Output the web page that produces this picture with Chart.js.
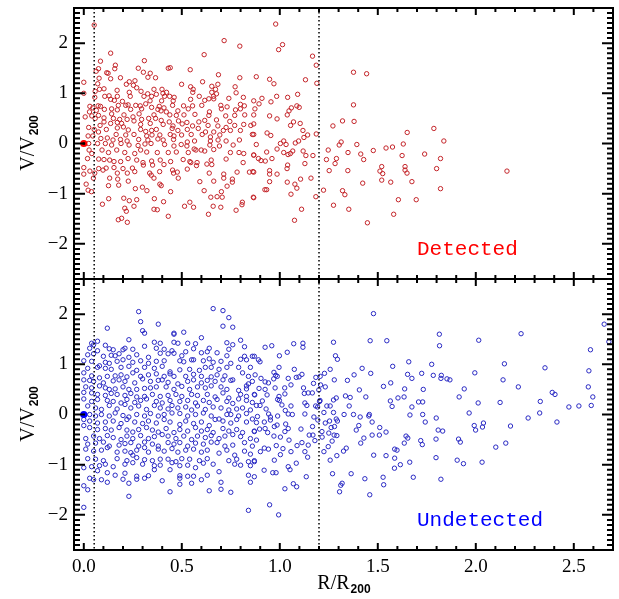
<!DOCTYPE html>
<html lang="en">
<head>
<meta charset="UTF-8">
<title>V/V200 vs R/R200</title>
<script src="https://cdn.jsdelivr.net/npm/chart.js@4/dist/chart.umd.min.js"></script>
<style>
	body { margin: 0; background: #fff; }
	#wrap { position: relative; width: 619px; height: 599px; }
	canvas { position: absolute; left: 0; }
	#topPanel { top: 0; }
	#bottomPanel { top: 270px; }
</style>
</head>
<body>
<div id="wrap">
	<canvas id="topPanel" width="619" height="290"></canvas>
	<canvas id="bottomPanel" width="619" height="329"></canvas>
</div>
<script>

// axis limits, tick labels, dotted marker radii
var rMin = -0.05, rMax = 2.7;
var vMin = -2.7, vMax = 2.7;
var rTicks = [0, 0.5, 1, 1.5, 2, 2.5];
var vTicks = [-2, -1, 0, 1, 2];
var markerR = [0.053, 1.2];
var labelAt = [1.70, -2.22];

// [R/R200, V/V200]
var detectedInner = [
[0.053,2.36],[0.716,2.05],[0.796,1.94],[0.137,1.80],[0.614,1.77],[0.309,1.65],[0.085,1.64],[0.161,1.56],[0.441,1.51],[0.431,1.50],[0.278,1.50],[0.075,1.49],[0.543,1.47],[0.158,1.49],[0.063,1.44],[0.117,1.41],[0.124,1.40],[0.304,1.42],[0.339,1.40],[0.687,1.37],
[0.078,1.30],[0.187,1.31],[0.137,1.29],[0.366,1.31],[0.327,1.32],[0.796,1.31],[0.606,1.23],[0.684,1.18],[0.499,1.18],[0.261,1.25],[0.232,1.23],[0.0,1.22],[0.071,1.19],[0.217,1.18],[0.253,1.16],[0.545,1.13],[0.772,1.13],[0.653,1.14],[0.270,1.11],[0.558,1.08],[0.672,1.08],[0.103,1.09],[0.358,1.08],[0.399,1.08],[0.170,1.06],[0.556,1.02],[0.422,1.02],[0.653,1.02],[0.326,0.99],[0.404,1.00],[0.232,1.02],[0.292,1.04],[0.0,1.00],[0.080,1.08],[0.058,1.04],
[0.129,0.95],[0.171,0.94],[0.107,0.94],[0.237,0.94],[0.438,0.94],[0.307,0.94],[0.346,0.94],[0.461,0.92],[0.056,0.92],[0.589,0.94],[0.412,0.94],[0.370,0.98],[0.677,0.99],[0.662,0.94],[0.777,1.01],[0.740,0.90],[0.814,0.92],[0.638,0.89],[0.663,0.89],[0.545,0.88],[0.137,0.88],[0.156,0.86],[0.197,0.84],[0.338,0.85],[0.397,0.85],[0.456,0.85],[0.617,0.86],
[0.031,0.74],[0.046,0.71],[0.073,0.75],[0.085,0.74],[0.176,0.76],[0.214,0.76],[0.226,0.77],[0.265,0.76],[0.288,0.75],[0.316,0.79],[0.346,0.72],[0.385,0.74],[0.409,0.71],[0.453,0.76],[0.509,0.75],[0.555,0.75],[0.602,0.76],[0.699,0.76],[0.731,0.73],[0.799,0.78],[0.819,0.75],[0.774,0.67],[0.105,0.68],[0.142,0.69],[0.171,0.67],[0.239,0.68],[0.295,0.69],[0.378,0.68],[0.394,0.65],[0.421,0.63],[0.480,0.65],[0.533,0.69],[0.641,0.63],[0.702,0.69],[0.799,0.69],
[0.029,0.63],[0.064,0.66],[0.041,0.55],[0.075,0.56],[0.142,0.59],[0.205,0.57],[0.282,0.59],[0.358,0.57],[0.439,0.57],[0.472,0.56],[0.511,0.57],[0.567,0.58],[0.638,0.56],[0.724,0.55],[0.770,0.56],[0.821,0.57],
[0.007,0.53],[0.058,0.50],[0.103,0.51],[0.151,0.50],[0.183,0.48],[0.221,0.48],[0.251,0.53],[0.256,0.45],[0.295,0.48],[0.331,0.50],[0.366,0.50],[0.395,0.46],[0.436,0.43],[0.483,0.45],[0.526,0.42],[0.587,0.43],[0.617,0.46],[0.677,0.47],[0.745,0.44],
[0.103,0.43],[0.083,0.36],[0.171,0.42],[0.193,0.40],[0.137,0.40],[0.290,0.38],[0.339,0.40],[0.405,0.38],[0.455,0.35],[0.502,0.39],[0.555,0.35],[0.634,0.36],[0.684,0.35],[0.726,0.32],[0.770,0.36],[0.816,0.38],[0.852,0.36],
[0.025,0.32],[0.053,0.28],[0.115,0.28],[0.171,0.31],[0.202,0.33],[0.227,0.27],[0.290,0.28],[0.316,0.24],[0.346,0.26],[0.370,0.28],[0.451,0.30],[0.480,0.26],[0.528,0.28],[0.584,0.30],[0.621,0.23],[0.663,0.23],[0.712,0.26],[0.748,0.26],[0.799,0.26],
[0.075,0.23],[0.165,0.18],[0.214,0.17],[0.256,0.18],[0.321,0.15],[0.348,0.17],[0.388,0.17],[0.441,0.18],[0.460,0.15],[0.499,0.17],[0.548,0.18],[0.604,0.18],[0.694,0.17],[0.860,0.18],[0.646,0.13],
[0.022,0.15],[0.046,0.15],[0.087,0.10],[0.120,0.11],[0.149,0.07],[0.187,0.08],[0.221,0.05],[0.280,0.08],[0.327,0.07],[0.378,0.09],[0.405,0.07],[0.458,0.08],[0.528,0.03],[0.565,0.05],[0.646,0.05],[0.685,0.07],[0.726,0.05],[0.794,0.07],
[0.025,0.00],[0.070,0.00],[0.110,0.00],[0.142,-0.03],[0.190,0.00],[0.231,-0.03],[0.277,-0.04],[0.312,-0.01],[0.343,0.00],[0.412,-0.02],[0.460,-0.05],[0.497,-0.02],[0.526,-0.05],[0.563,-0.11],[0.599,-0.13],[0.643,-0.03],[0.692,-0.05],[0.762,-0.03],
[0.027,-0.13],[0.041,-0.20],[0.093,-0.13],[0.126,-0.18],[0.168,-0.13],[0.209,-0.18],[0.260,-0.20],[0.290,-0.13],[0.321,-0.17],[0.375,-0.18],[0.431,-0.18],[0.472,-0.17],[0.533,-0.18],[0.572,-0.13],[0.617,-0.15],[0.663,-0.12],[0.748,-0.18],[0.792,-0.18],[0.816,-0.20],[0.867,-0.23],
[0.019,-0.30],[0.076,-0.31],[0.103,-0.32],[0.132,-0.33],[0.154,-0.36],[0.188,-0.36],[0.226,-0.30],[0.270,-0.33],[0.302,-0.38],[0.346,-0.35],[0.390,-0.33],[0.443,-0.36],[0.507,-0.32],[0.541,-0.36],[0.578,-0.38],[0.628,-0.41],[0.650,-0.33],[0.726,-0.31],[0.813,-0.38],
[0.0,-0.48],[0.076,-0.50],[0.114,-0.49],[0.154,-0.48],[0.200,-0.50],[0.248,-0.49],[0.304,-0.43],[0.351,-0.43],[0.409,-0.42],[0.453,-0.53],[0.546,-0.38],[0.575,-0.44],[0.653,-0.42],[0.782,-0.57],[0.845,-0.57],[0.863,-0.56],
[0.031,-0.55],[0.056,-0.59],[0.098,-0.53],[0.171,-0.59],[0.222,-0.59],[0.260,-0.56],[0.336,-0.59],[0.387,-0.56],[0.458,-0.59],[0.477,-0.57],[0.528,-0.51],[0.640,-0.59],[0.714,-0.61],[0.758,-0.71],
[0.0,-0.61],[0.049,-0.69],[0.132,-0.69],[0.173,-0.71],[0.227,-0.75],[0.344,-0.63],[0.358,-0.69],[0.482,-0.69],[0.592,-0.76],[0.663,-0.75],[0.714,-0.69],[0.731,-0.85],[0.758,-0.77],
[0.012,-0.81],[0.039,-0.96],[0.022,-0.93],[0.126,-0.84],[0.178,-0.83],[0.263,-0.90],[0.299,-0.87],[0.388,-0.81],[0.395,-0.84],[0.322,-0.94],[0.443,-0.96],[0.614,-0.94],[0.702,-0.96],
[0.095,-1.21],[0.127,-1.10],[0.204,-1.09],[0.232,-1.14],[0.270,-1.12],[0.256,-1.25],[0.360,-1.10],[0.407,-1.16],[0.541,-1.17],[0.514,-1.25],[0.560,-1.27],[0.648,-1.07],[0.680,-1.06],[0.706,-1.07],[0.809,-1.17],[0.807,-1.22],[0.777,-1.33],[0.660,-1.25],[0.699,-1.27],[0.865,-1.07],
[0.209,-1.29],[0.217,-1.35],[0.358,-1.31],[0.375,-1.32],[0.431,-1.45],[0.636,-1.41],[0.176,-1.52],[0.193,-1.49],[0.222,-1.57]
];

var detectedOuter = [
[0.979,2.38],[1.014,1.97],[0.994,1.87],[1.167,1.74],[1.186,1.56],[0.880,1.33],[0.948,1.28],[0.970,1.19],[1.131,1.27],[1.189,1.20],[1.376,1.42],[1.443,1.39],[1.091,0.98],[0.984,0.94],[1.040,0.92],[0.909,0.90],[0.867,0.85],[0.955,0.83],[0.894,0.79],[1.087,0.75],[1.099,0.72],[1.059,0.71],[0.873,0.69],[1.047,0.65],[1.376,0.77],[1.038,0.57],[0.948,0.55],[0.867,0.57],[0.986,0.49],[1.070,0.43],[1.104,0.40],[1.055,0.36],[1.320,0.45],[1.379,0.44],[1.271,0.35],[0.867,0.39],[1.118,0.26],[0.935,0.21],[0.954,0.16],[1.142,0.17],[1.123,0.12],[1.186,0.19],[0.867,0.18],[1.786,0.30],[1.650,0.22],[1.837,0.05],
[0.880,-0.02],[1.020,0.05],[1.032,-0.02],[1.003,0.0],[1.096,0.05],[1.079,0.01],[1.313,0.03],[1.303,-0.03],[1.393,-0.02],[1.542,-0.09],[1.575,-0.07],[1.630,-0.01],[1.477,-0.14],[0.986,-0.11],[1.020,-0.18],[1.042,-0.22],[1.054,-0.20],[1.066,-0.15],[1.119,-0.15],[1.133,-0.24],[1.169,-0.24],[0.933,-0.17],[0.867,-0.23],[0.891,-0.30],[0.904,-0.34],[0.926,-0.35],[0.960,-0.30],[1.247,-0.13],[1.238,-0.32],[1.289,-0.30],[1.282,-0.40],[1.348,-0.18],[1.413,-0.21],[1.428,-0.32],[1.624,-0.24],[1.739,-0.21],[1.820,-0.30],
[1.040,-0.43],[1.128,-0.40],[1.037,-0.50],[0.948,-0.54],[0.948,-0.61],[0.986,-0.61],[1.252,-0.54],[1.347,-0.54],[1.520,-0.46],[1.511,-0.55],[1.525,-0.60],[1.639,-0.46],[1.639,-0.53],[1.649,-0.59],[1.800,-0.50],[2.159,-0.55],[0.867,-0.57],[0.948,-0.76],[1.038,-0.77],[1.106,-0.71],[1.159,-0.69],[1.077,-0.81],[1.087,-0.89],[1.520,-0.73],[1.566,-0.77],[1.674,-0.76],[1.423,-0.79],
[0.924,-0.92],[0.933,-0.92],[1.057,-1.01],[1.223,-0.93],[1.320,-0.94],[1.332,-1.02],[1.184,-1.06],[0.867,-1.08],[1.820,-0.90],[1.605,-1.12],[1.696,-1.12],[1.111,-1.31],[1.274,-1.23],[1.352,-1.31],[1.581,-1.41],[1.075,-1.53],[1.447,-1.58]
];

var undetectedInner = [
[0.66,2.11],[0.71,2.07],[0.28,2.05],[0.74,1.93],[0.29,1.85],[0.38,1.80],[0.71,1.76],[0.76,1.74],[0.12,1.72],[0.30,1.67],[0.31,1.62],[0.46,1.62],[0.46,1.60],[0.51,1.64],[0.60,1.53],[0.23,1.49],[0.07,1.46],[0.04,1.42],[0.05,1.39],[0.11,1.38],[0.31,1.36],[0.36,1.44],[0.39,1.42],[0.46,1.44],[0.48,1.42],[0.53,1.42],[0.57,1.41],[0.73,1.43],[0.80,1.48],[0.82,1.35],[0.76,1.39],
[0.03,1.32],[0.07,1.27],[0.13,1.31],[0.15,1.29],[0.21,1.32],[0.20,1.29],[0.25,1.30],[0.37,1.32],[0.41,1.30],[0.45,1.27],[0.52,1.25],[0.56,1.31],[0.63,1.25],[0.64,1.32],[0.68,1.23],[0.74,1.30],[0.02,1.19],[0.05,1.21],[0.10,1.16],[0.14,1.18],[0.16,1.17],[0.18,1.21],[0.23,1.14],[0.27,1.19],[0.33,1.14],[0.39,1.22],[0.43,1.21],[0.46,1.22],[0.50,1.17],[0.55,1.09],[0.60,1.23],[0.64,1.11],[0.73,1.17],[0.82,1.16],[0.86,1.16],
[0.00,1.07],[0.04,1.06],[0.08,0.97],[0.11,1.04],[0.13,1.02],[0.17,1.06],[0.20,1.09],[0.25,1.04],[0.29,1.07],[0.33,1.02],[0.37,1.06],[0.41,1.07],[0.49,1.07],[0.51,1.05],[0.56,1.09],[0.61,1.07],[0.66,1.04],[0.70,1.06],[0.75,1.02],[0.80,1.10],[0.83,1.09],
[0.02,0.92],[0.07,0.94],[0.11,0.92],[0.14,0.90],[0.19,0.94],[0.23,0.96],[0.27,0.88],[0.31,0.94],[0.36,0.92],[0.40,0.96],[0.44,0.85],[0.49,0.89],[0.54,0.90],[0.59,0.88],[0.62,0.94],[0.65,0.94],[0.69,0.90],[0.73,0.94],[0.79,0.94],[0.85,0.94],
[0.00,0.83],[0.04,0.77],[0.08,0.73],[0.12,0.76],[0.16,0.77],[0.19,0.79],[0.22,0.75],[0.25,0.83],[0.29,0.76],[0.33,0.79],[0.37,0.81],[0.41,0.76],[0.44,0.81],[0.46,0.76],[0.52,0.76],[0.56,0.80],[0.60,0.76],[0.65,0.75],[0.68,0.79],[0.72,0.77],[0.76,0.69],[0.81,0.83],[0.84,0.76],
[0.00,0.69],[0.03,0.68],[0.05,0.66],[0.10,0.63],[0.15,0.67],[0.18,0.69],[0.21,0.66],[0.26,0.63],[0.30,0.71],[0.34,0.66],[0.38,0.68],[0.40,0.69],[0.43,0.64],[0.48,0.61],[0.53,0.66],[0.56,0.69],[0.60,0.63],[0.63,0.68],[0.67,0.66],[0.71,0.69],[0.75,0.68],[0.83,0.57],[0.84,0.61],[0.86,0.66],
[0.01,0.55],[0.04,0.53],[0.08,0.57],[0.11,0.53],[0.13,0.50],[0.16,0.51],[0.20,0.55],[0.23,0.50],[0.27,0.50],[0.31,0.52],[0.34,0.53],[0.37,0.55],[0.42,0.55],[0.46,0.50],[0.50,0.56],[0.54,0.50],[0.58,0.55],[0.62,0.53],[0.65,0.57],[0.70,0.55],[0.73,0.50],[0.79,0.48],[0.83,0.51],
[0.00,0.44],[0.04,0.43],[0.07,0.40],[0.11,0.38],[0.14,0.42],[0.17,0.40],[0.21,0.38],[0.24,0.42],[0.27,0.35],[0.31,0.36],[0.35,0.40],[0.39,0.36],[0.43,0.38],[0.47,0.40],[0.50,0.36],[0.55,0.40],[0.58,0.38],[0.63,0.40],[0.67,0.35],[0.71,0.43],[0.74,0.33],[0.80,0.40],[0.83,0.36],[0.87,0.40],
[0.00,0.31],[0.04,0.26],[0.07,0.30],[0.12,0.28],[0.15,0.26],[0.19,0.23],[0.22,0.30],[0.26,0.24],[0.29,0.28],[0.32,0.31],[0.37,0.26],[0.40,0.23],[0.44,0.28],[0.49,0.26],[0.53,0.28],[0.57,0.23],[0.61,0.28],[0.64,0.24],[0.68,0.30],[0.73,0.26],[0.76,0.22],[0.79,0.31],[0.83,0.28],[0.86,0.24],
[0.02,0.17],[0.06,0.13],[0.09,0.10],[0.13,0.18],[0.17,0.11],[0.21,0.20],[0.24,0.13],[0.28,0.17],[0.32,0.10],[0.36,0.18],[0.39,0.13],[0.43,0.11],[0.45,0.18],[0.48,0.13],[0.52,0.15],[0.55,0.09],[0.58,0.17],[0.62,0.10],[0.66,0.15],[0.70,0.13],[0.74,0.09],[0.78,0.11],[0.81,0.13],[0.85,0.09],
[0.03,0.00],[0.06,-0.03],[0.09,0.00],[0.13,-0.03],[0.16,0.03],[0.20,-0.02],[0.23,-0.05],[0.27,0.00],[0.31,-0.03],[0.34,0.02],[0.38,-0.03],[0.41,0.00],[0.45,0.03],[0.49,0.02],[0.53,-0.03],[0.57,0.00],[0.61,0.03],[0.65,-0.03],[0.69,-0.09],[0.73,0.00],[0.75,0.00],[0.79,-0.03],[0.83,0.02],[0.86,-0.09],
[0.00,-0.10],[0.03,-0.13],[0.07,-0.17],[0.11,-0.15],[0.15,-0.13],[0.19,-0.18],[0.22,-0.10],[0.26,-0.15],[0.30,-0.18],[0.33,-0.13],[0.37,-0.17],[0.41,-0.10],[0.44,-0.15],[0.49,-0.20],[0.52,-0.13],[0.56,-0.18],[0.60,-0.15],[0.64,-0.22],[0.67,-0.10],[0.71,-0.13],[0.75,-0.17],[0.78,-0.10],[0.83,-0.15],[0.00,-0.22],
[0.03,-0.26],[0.07,-0.30],[0.11,-0.28],[0.14,-0.31],[0.18,-0.26],[0.22,-0.31],[0.25,-0.35],[0.28,-0.30],[0.32,-0.26],[0.35,-0.31],[0.38,-0.35],[0.42,-0.28],[0.46,-0.36],[0.49,-0.30],[0.53,-0.33],[0.57,-0.26],[0.60,-0.33],[0.63,-0.30],[0.66,-0.36],[0.71,-0.28],[0.74,-0.33],[0.78,-0.30],[0.81,-0.36],[0.87,-0.33],
[0.01,-0.48],[0.05,-0.43],[0.08,-0.48],[0.12,-0.42],[0.15,-0.46],[0.19,-0.50],[0.22,-0.43],[0.25,-0.48],[0.29,-0.42],[0.33,-0.48],[0.36,-0.44],[0.40,-0.40],[0.43,-0.43],[0.47,-0.48],[0.51,-0.43],[0.55,-0.50],[0.58,-0.43],[0.62,-0.46],[0.65,-0.42],[0.69,-0.48],[0.72,-0.43],[0.76,-0.40],[0.80,-0.44],[0.85,-0.48],
[0.02,-0.59],[0.06,-0.57],[0.10,-0.55],[0.13,-0.63],[0.18,-0.61],[0.21,-0.58],[0.24,-0.56],[0.28,-0.63],[0.31,-0.55],[0.35,-0.59],[0.38,-0.63],[0.43,-0.56],[0.46,-0.59],[0.49,-0.56],[0.53,-0.63],[0.57,-0.57],[0.61,-0.59],[0.65,-0.55],[0.68,-0.56],[0.72,-0.63],[0.76,-0.61],[0.82,-0.56],[0.86,-0.63],
[0.01,-0.69],[0.05,-0.73],[0.09,-0.71],[0.12,-0.66],[0.17,-0.75],[0.21,-0.73],[0.24,-0.76],[0.27,-0.71],[0.31,-0.66],[0.33,-0.75],[0.38,-0.69],[0.41,-0.73],[0.45,-0.68],[0.48,-0.75],[0.52,-0.71],[0.56,-0.69],[0.60,-0.75],[0.63,-0.71],[0.69,-0.77],[0.73,-0.71],[0.77,-0.81],[0.82,-0.73],[0.85,-0.79],
[0.02,-0.88],[0.06,-0.89],[0.10,-0.92],[0.17,-0.88],[0.22,-0.92],[0.25,-0.81],[0.27,-0.86],[0.31,-0.90],[0.35,-0.92],[0.39,-0.89],[0.43,-0.89],[0.47,-0.94],[0.50,-0.88],[0.54,-0.89],[0.59,-0.92],[0.63,-0.88],[0.74,-0.92],[0.78,-0.89],[0.84,-0.94],[0.87,-0.92],
[0.00,-1.06],[0.04,-1.04],[0.08,-1.02],[0.11,-0.99],[0.15,-1.04],[0.21,-0.99],[0.25,-0.96],[0.30,-0.99],[0.36,-1.02],[0.39,-1.01],[0.45,-0.96],[0.49,-1.02],[0.53,-1.01],[0.57,-1.06],[0.61,-0.97],[0.66,-0.99],[0.77,-0.99],[0.80,-1.01],[0.85,-1.02],
[0.07,-1.12],[0.12,-1.16],[0.16,-1.21],[0.21,-1.17],[0.27,-1.23],[0.31,-1.27],[0.33,-1.22],[0.36,-1.10],[0.44,-1.10],[0.49,-1.27],[0.49,-1.22],[0.53,-1.23],[0.56,-1.23],[0.63,-1.21],[0.69,-1.14],[0.03,-1.27],[0.05,-1.30],[0.09,-1.30],[0.12,-1.35],[0.20,-1.29],[0.23,-1.37],[0.27,-1.29],[0.40,-1.32],[0.49,-1.39],[0.60,-1.30],[0.70,-1.35],[0.84,-1.21],[0.85,-1.35],
[0.00,-1.42],[0.02,-1.50],[0.44,-1.54],[0.55,-1.37],[0.64,-1.52],[0.70,-1.49],[0.75,-1.55],[0.23,-1.63],[0.00,-1.85],[0.84,-1.91]
];

var undetectedOuter = [
[1.478,2.01],[2.655,1.80],[1.814,1.60],[2.231,1.61],[2.015,1.48],[1.461,1.47],[1.546,1.47],[1.274,1.44],[2.679,1.45],[1.815,1.37],[2.585,1.29],[1.284,1.17],[1.294,1.10],[1.658,1.05],[2.146,1.01],[1.775,1.00],[1.576,0.96],[2.353,0.93],[1.420,0.92],[1.257,0.90],[2.577,0.87],[1.228,0.82],[1.464,0.82],[1.724,0.82],[1.995,0.83],[1.652,0.80],[1.783,0.78],[1.824,0.78],[1.379,0.79],[1.674,0.72],[1.822,0.72],[1.853,0.71],[1.868,0.69],[2.139,0.69],[1.278,0.69],[1.345,0.68],[1.566,0.63],[1.529,0.56],[2.217,0.55],[2.574,0.55],
[1.406,0.49],[1.637,0.51],[1.732,0.50],[1.941,0.51],[2.390,0.44],[2.404,0.40],[2.597,0.35],[1.335,0.37],[1.359,0.34],[1.439,0.35],[1.603,0.33],[1.634,0.35],[1.915,0.35],[1.564,0.27],[1.708,0.25],[1.729,0.25],[2.329,0.26],[2.012,0.23],[2.124,0.24],[2.589,0.18],[1.674,0.15],[1.573,0.16],[2.475,0.15],[2.526,0.17],[1.354,0.17],
[1.376,0.00],[1.966,0.03],[2.326,0.03],[1.457,0.00],[1.729,0.00],[1.664,-0.01],[1.410,-0.05],[1.454,-0.03],[2.267,-0.07],[1.798,-0.07],[1.742,-0.15],[1.471,-0.15],[2.414,-0.15],[1.992,-0.22],[2.039,-0.17],[2.034,-0.25],[2.177,-0.23],[1.510,-0.26],[1.403,-0.22],[1.390,-0.31],[1.808,-0.31],[1.831,-0.33],[1.999,-0.31],[1.542,-0.35],[1.644,-0.43],[1.653,-0.47],[1.508,-0.41],[1.471,-0.41],[1.429,-0.47],
[1.413,-0.57],[1.635,-0.57],[1.719,-0.52],[1.727,-0.60],[1.797,-0.49],[1.912,-0.49],[1.921,-0.55],[2.102,-0.65],[2.153,-0.57],[1.479,-0.81],[1.542,-0.82],[1.586,-0.69],[1.598,-0.71],[1.586,-0.87],[1.663,-0.95],[1.615,-1.00],[1.585,-1.07],[1.797,-0.86],[1.905,-0.91],[1.937,-0.98],[2.032,-0.95],[1.339,-0.67],[1.325,-0.73],[1.291,-0.82],[1.257,-0.91],[1.269,-1.18],[1.364,-1.18],[1.434,-1.28],[1.527,-1.25],[1.530,-1.40],[1.681,-1.25],[1.822,-1.29],[1.318,-1.37],[1.311,-1.41],[1.305,-1.54],[1.459,-1.60],
[1.225,-0.74],[1.247,-0.64],[1.267,-0.53],[1.291,-0.42],[1.277,-0.41],[1.250,-0.37],[1.216,-0.45],[1.215,-0.34],[1.262,-0.26],[1.279,-0.24],[1.254,-0.13],[1.294,-0.13],[1.232,-0.17],[1.225,0.04],[1.274,0.04],[1.288,-0.09],[1.328,0.00],[1.257,0.17],[1.240,0.17],[1.274,0.29],[1.288,0.33],[1.205,0.28],[1.232,0.55],[1.208,0.59],[1.206,0.76],
[0.925,1.34],[0.959,1.37],[1.071,1.41],[1.118,1.42],[1.118,1.34],[1.038,1.24],[0.998,1.17],[0.870,1.16],[0.891,1.09],[0.899,1.05],[0.996,0.94],[1.074,0.90],[0.874,0.79],[0.970,0.84],[0.979,0.78],[0.987,0.76],[0.969,0.71],[0.904,0.72],[0.925,0.65],[0.942,0.63],[1.043,0.72],[1.084,0.74],[1.098,0.75],[1.113,0.80],[1.184,0.74],[1.057,0.59],[1.025,0.53],[0.894,0.52],[0.925,0.50],[0.976,0.53],[1.121,0.53],[1.172,0.62],
[0.935,0.39],[0.872,0.39],[0.996,0.36],[1.026,0.41],[1.125,0.42],[1.166,0.43],[1.145,0.43],[1.199,0.49],[0.998,0.28],[0.989,0.30],[0.911,0.27],[0.881,0.18],[0.899,0.18],[1.011,0.19],[1.057,0.17],[1.028,0.08],[1.064,0.00],[1.128,0.23],[1.138,0.18],[1.183,0.17],[1.193,0.15],[1.203,0.26],[0.930,0.11],
[0.886,-0.04],[0.943,0.01],[0.952,-0.05],[0.989,-0.03],[1.043,0.01],[1.128,0.01],[1.174,-0.05],[1.194,-0.11],[0.881,-0.16],[0.921,-0.15],[0.952,-0.11],[0.972,-0.24],[0.986,-0.21],[1.030,-0.19],[1.043,-0.28],[1.026,-0.34],[0.925,-0.28],[0.897,-0.29],[0.870,-0.34],[0.938,-0.36],[0.970,-0.43],[1.003,-0.45],[1.047,-0.51],[1.108,-0.29],[1.167,-0.24],[1.169,-0.41],[1.179,-0.52],[1.150,-0.41],
[0.881,-0.51],[0.942,-0.69],[0.921,-0.67],[0.901,-0.74],[0.982,-0.62],[1.016,-0.68],[1.088,-0.62],[1.113,-0.56],[1.145,-0.61],[1.128,-0.74],[1.057,-0.74],[1.003,-0.80],[0.972,-0.91],[1.142,-0.85],[1.084,-0.97],[1.043,-1.04],[1.052,-1.10],[0.870,-0.94],[0.920,-1.11],[0.964,-1.16],[0.981,-1.16],[0.870,-1.24],[1.135,-1.24],[1.069,-1.38],[1.086,-1.44],[1.026,-1.48],[0.948,-1.80],[0.994,-2.00]
];

// highlighted object at the centre of each panel
var detectedCentre = [[0, 0]];
var undetectedCentre = [[0, 0]];

function toXY(list) {
	return list.map(function(p) { return { x: p[0], y: p[1] }; });
}

function minusLabel(v) {
	return v < 0 ? '\u2212' + (-v) : String(v);
}

// "main" followed by a subscript, centred on cx
function subTitle(ctx, main, sub, cx, y) {
	var mainFont = '20px "Liberation Serif"', subFont = 'bold 12px "Liberation Sans"';
	ctx.font = mainFont;
	var w1 = ctx.measureText(main).width;
	ctx.font = subFont;
	var w2 = ctx.measureText(sub).width;
	var x0 = cx - (w1 + w2) / 2;
	ctx.textAlign = 'left';
	ctx.textBaseline = 'alphabetic';
	ctx.font = mainFont;
	ctx.fillText(main, x0, y);
	ctx.font = subFont;
	ctx.fillText(sub, x0 + w1 + 1, y + 4);
}

var panelDecor = {
	id: 'panelDecor',
	afterDatasetsDraw: function(chart, args, opts) {
		var ctx = chart.ctx, a = chart.chartArea,
			xs = chart.scales.x, ys = chart.scales.y;
		var i, p, len;
		ctx.save();
		ctx.strokeStyle = '#000';

		// dotted radii
		ctx.lineWidth = 1.5;
		ctx.setLineDash([1.5, 2.5]);
		markerR.forEach(function(r) {
			var px = xs.getPixelForValue(r);
			ctx.beginPath();
			ctx.moveTo(px, a.top);
			ctx.lineTo(px, a.bottom);
			ctx.stroke();
		});
		ctx.setLineDash([]);

		// inward ticks on all four sides
		ctx.lineWidth = 2;
		for (i = 0; i <= 27; i++) {
			p = xs.getPixelForValue(i / 10);
			len = (i % 5 === 0) ? 7 : 4;
			ctx.beginPath();
			ctx.moveTo(p, a.bottom); ctx.lineTo(p, a.bottom - len);
			ctx.moveTo(p, a.top); ctx.lineTo(p, a.top + len);
			ctx.stroke();
		}
		for (i = -26; i <= 26; i++) {
			p = ys.getPixelForValue(i / 10);
			len = (i % 10 === 0) ? 11 : 6;
			ctx.beginPath();
			ctx.moveTo(a.left, p); ctx.lineTo(a.left + len, p);
			ctx.moveTo(a.right, p); ctx.lineTo(a.right - len, p);
			ctx.stroke();
		}
		ctx.strokeRect(a.left, a.top, a.right - a.left, a.bottom - a.top);

		// panel name
		ctx.font = '21px "Liberation Mono"';
		ctx.fillStyle = opts.color;
		ctx.textAlign = 'left';
		ctx.textBaseline = 'alphabetic';
		ctx.fillText(opts.label, xs.getPixelForValue(labelAt[0]), ys.getPixelForValue(labelAt[1]));

		ctx.fillStyle = '#000';
		if (opts.xTitle) {
			subTitle(ctx, 'R/R', '200', (a.left + a.right) / 2, a.bottom + 39);
		}
		ctx.translate(34, (a.top + a.bottom) / 2);
		ctx.rotate(-Math.PI / 2);
		subTitle(ctx, 'V/V', '200', 0, 0);
		ctx.restore();
	}
};

function makePanel(id, points, centre, color, centreColor, centreFill, label, labelColor, showX, pad) {
	var tickFont = { family: 'Liberation Serif', size: 19 };
	return new Chart(document.getElementById(id), {
		type: 'scatter',
		data: {
			datasets: [{
				data: toXY(centre),
				pointRadius: 2.6,
				borderWidth: 2,
				borderColor: centreColor,
				backgroundColor: centreFill
			}, {
				data: toXY(points),
				pointRadius: 2.2,
				borderWidth: 1,
				borderColor: color,
				backgroundColor: 'rgba(0,0,0,0)'
			}]
		},
		options: {
			responsive: false,
			animation: false,
			devicePixelRatio: 1,
			events: [],
			layout: { padding: pad },
			plugins: {
				legend: { display: false },
				tooltip: { enabled: false },
				panelDecor: { label: label, color: labelColor, xTitle: showX }
			},
			scales: {
				x: {
					type: 'linear',
					min: rMin,
					max: rMax,
					display: showX,
					grid: { display: false, drawTicks: false },
					border: { display: false },
					ticks: {
						font: tickFont,
						color: '#000',
						padding: 6,
						maxRotation: 0,
						autoSkip: false,
						callback: function(v) { return v.toFixed(1); }
					},
					afterBuildTicks: function(s) {
						s.ticks = rTicks.map(function(v) { return { value: v }; });
					},
					afterFit: function(s) {
						s.height = showX ? 49 : 0;
						s.paddingLeft = 0;
						s.paddingRight = 0;
					}
				},
				y: {
					type: 'linear',
					min: vMin,
					max: vMax,
					grid: { display: false, drawTicks: false },
					border: { display: false },
					ticks: {
						font: tickFont,
						color: '#000',
						padding: 6,
						callback: minusLabel
					},
					afterBuildTicks: function(s) {
						s.ticks = vTicks.map(function(v) { return { value: v }; });
					},
					afterFit: function(s) {
						s.width = 74;
						s.paddingTop = 0;
						s.paddingBottom = 0;
					}
				}
			}
		},
		plugins: [panelDecor]
	});
}

makePanel('topPanel', detectedInner.concat(detectedOuter), detectedCentre,
	'rgb(195,35,40)', '#ff0000', '#400000', 'Detected', '#ff0000', false,
	{ top: 8, right: 5, bottom: 11, left: 0 });

makePanel('bottomPanel', undetectedInner.concat(undetectedOuter), undetectedCentre,
	'rgb(40,40,195)', '#0000ff', '#0000ff', 'Undetected', '#0000ff', true,
	{ top: 9, right: 5, bottom: 0, left: 0 });

</script>
</body>
</html>
